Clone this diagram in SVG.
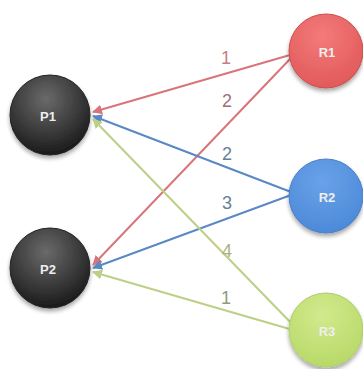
<svg xmlns="http://www.w3.org/2000/svg" width="363" height="369" viewBox="0 0 363 369">
<style>
.lbl{font-family:"Liberation Sans",Arial,sans-serif;font-size:18px;text-anchor:middle}
.nt{font-family:"Liberation Sans",Arial,sans-serif;font-size:13px;font-weight:bold;fill:#eeeeee;text-anchor:middle}
.c{fill:none;stroke-width:2}
.red{stroke:#d8747a}
.blue{stroke:#5a88c4}
.green{stroke:#bccf86}
</style>
<defs>
<radialGradient id="gp" cx="0.45" cy="0.3" r="0.75">
<stop offset="0" stop-color="#6a6a6a"/><stop offset="1" stop-color="#151515"/>
</radialGradient>
<radialGradient id="gr" cx="0.45" cy="0.3" r="0.75">
<stop offset="0" stop-color="#f47a7a"/><stop offset="1" stop-color="#e05858"/>
</radialGradient>
<radialGradient id="gb" cx="0.45" cy="0.3" r="0.75">
<stop offset="0" stop-color="#6aa2e8"/><stop offset="1" stop-color="#4a88d8"/>
</radialGradient>
<radialGradient id="gg" cx="0.45" cy="0.3" r="0.75">
<stop offset="0" stop-color="#d2ea8e"/><stop offset="1" stop-color="#b6d866"/>
</radialGradient>
<filter id="sh" x="-20%" y="-20%" width="140%" height="150%">
<feGaussianBlur in="SourceAlpha" stdDeviation="2"/>
<feOffset dy="3"/>
<feComponentTransfer><feFuncA type="linear" slope="0.35"/></feComponentTransfer>
<feMerge><feMergeNode/><feMergeNode in="SourceGraphic"/></feMerge>
</filter>
<marker id="ar" viewBox="0 0 10 10" refX="9" refY="5" markerWidth="5" markerHeight="5" orient="auto-start-reverse"><path d="M0,0L10,5L0,10z" fill="#d8747a"/></marker>
<marker id="ab" viewBox="0 0 10 10" refX="9" refY="5" markerWidth="5" markerHeight="5" orient="auto-start-reverse"><path d="M0,0L10,5L0,10z" fill="#5a88c4"/></marker>
<marker id="ag" viewBox="0 0 10 10" refX="9" refY="5" markerWidth="5" markerHeight="5" orient="auto-start-reverse"><path d="M0,0L10,5L0,10z" fill="#bccf86"/></marker>
</defs>
<rect width="363" height="369" fill="#ffffff"/>
<g id="connectors">
<line class="c red" x1="290" y1="55" x2="93" y2="112" marker-end="url(#ar)"/>
<line class="c red" x1="291" y1="58" x2="93" y2="265" marker-end="url(#ar)"/>
<line class="c blue" x1="291" y1="192" x2="93" y2="116" marker-end="url(#ab)"/>
<line class="c blue" x1="291" y1="195" x2="93" y2="268" marker-end="url(#ab)"/>
<line class="c green" x1="294" y1="326" x2="93" y2="119" marker-end="url(#ag)"/>
<line class="c green" x1="293" y1="330" x2="93" y2="272" marker-end="url(#ag)"/>
<text class="lbl" x="226" y="64" fill="#c47e86">1</text>
<text class="lbl" x="227" y="107" fill="#a07076">2</text>
<text class="lbl" x="227" y="160" fill="#6a7e98">2</text>
<text class="lbl" x="227" y="209" fill="#6a7e98">3</text>
<text class="lbl" x="227" y="257" fill="#a8b47a">4</text>
<text class="lbl" x="226" y="304" fill="#909a80">1</text>
</g>
<g id="P1"><circle cx="50" cy="115" r="40" fill="url(#gp)" stroke="#222" stroke-width="1" filter="url(#sh)"/><text class="nt" x="48" y="121">P1</text></g>
<g id="P2"><circle cx="50" cy="268" r="40" fill="url(#gp)" stroke="#222" stroke-width="1" filter="url(#sh)"/><text class="nt" x="48" y="274">P2</text></g>
<g id="R1"><circle cx="326" cy="51" r="37" fill="url(#gr)" stroke="#c85050" stroke-width="1" filter="url(#sh)"/><text class="nt" x="327" y="57">R1</text></g>
<g id="R2"><circle cx="326" cy="196" r="37" fill="url(#gb)" stroke="#4a80c8" stroke-width="1" filter="url(#sh)"/><text class="nt" x="327" y="202">R2</text></g>
<g id="R3"><circle cx="326" cy="330" r="37" fill="url(#gg)" stroke="#b0cc70" stroke-width="1" filter="url(#sh)"/><text class="nt" x="327" y="336">R3</text></g>
</svg>
